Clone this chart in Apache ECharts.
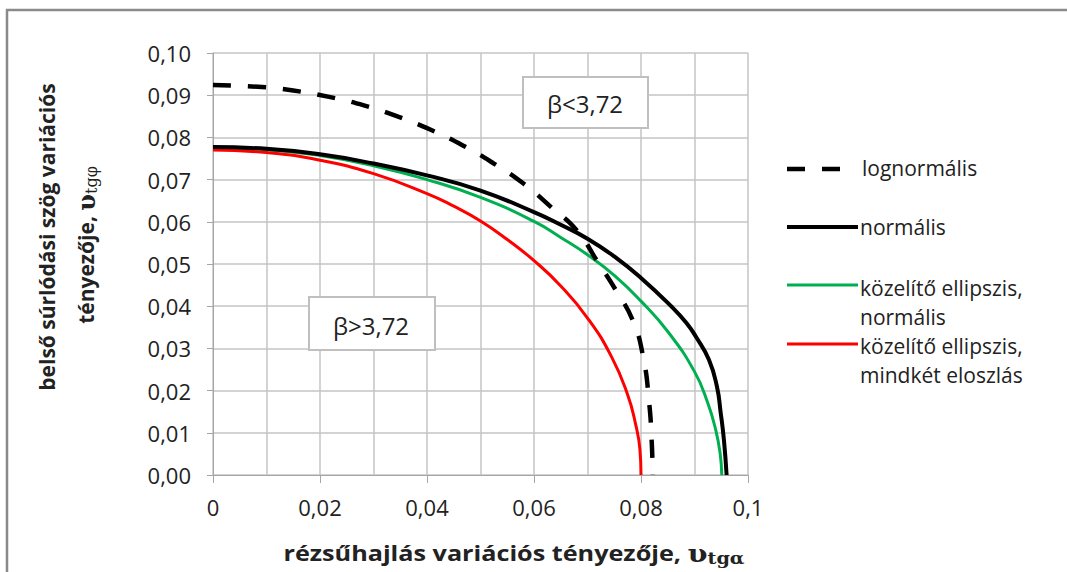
<!DOCTYPE html>
<html>
<head>
<meta charset="utf-8">
<script src="https://cdn.jsdelivr.net/npm/echarts@6/dist/echarts.min.js"></script>
<style>
html,body{margin:0;padding:0;background:#fff;}
#chart{width:1067px;height:572px;}
</style>
</head>
<body>
<div id="chart"></div>
<script>
// ---- data ----
var seriesNames = ['lognormális', 'normális', 'közelítő ellipszis, normális', 'közelítő ellipszis, mindkét eloszlás'];

var lognormalX = [0, 0.0084, 0.015, 0.0217, 0.0282, 0.0346, 0.0407, 0.0467, 0.0525, 0.0581, 0.0631, 0.0681, 0.0718, 0.0753, 0.0785, 0.0804, 0.0815, 0.0820, 0.0822];
var lognormalY = [0.0924, 0.0920, 0.0911, 0.0896, 0.0876, 0.0849, 0.0818, 0.0781, 0.0738, 0.0690, 0.0636, 0.0578, 0.0507, 0.0438, 0.0365, 0.0280, 0.0175, 0.0080, 0.0];

var normalX = [0, 0.010, 0.020, 0.030, 0.040, 0.050, 0.060, 0.065, 0.070, 0.075, 0.080, 0.0858, 0.0885, 0.0903, 0.0927, 0.0942, 0.0949, 0.0955, 0.0960];
var normalY = [0.0777, 0.0773, 0.0760, 0.0738, 0.0710, 0.0674, 0.0623, 0.0593, 0.0560, 0.0518, 0.0467, 0.0398, 0.0360, 0.0327, 0.0273, 0.0209, 0.0147, 0.0083, 0.0];

var ellNormX = [0, 0.010, 0.020, 0.030, 0.040, 0.050, 0.060, 0.065, 0.070, 0.075, 0.080, 0.085, 0.090, 0.0925, 0.0940, 0.0948, 0.0951];
var ellNormY = [0.0775, 0.0771, 0.0757, 0.0733, 0.0700, 0.0658, 0.0601, 0.0563, 0.0522, 0.0473, 0.0412, 0.0340, 0.0245, 0.0170, 0.0105, 0.0050, 0.0];

var ellBothX = [0, 0.010, 0.020, 0.030, 0.040, 0.045, 0.050, 0.055, 0.060, 0.065, 0.070, 0.0745, 0.0775, 0.0790, 0.0798, 0.0800];
var ellBothY = [0.0770, 0.0764, 0.0746, 0.0714, 0.0667, 0.0637, 0.0602, 0.0558, 0.0508, 0.0448, 0.0372, 0.0280, 0.0190, 0.0120, 0.0060, 0.0];

var xTickLabels = ['0', '0,02', '0,04', '0,06', '0,08', '0,1'];
var yTickLabels = ['0,00', '0,01', '0,02', '0,03', '0,04', '0,05', '0,06', '0,07', '0,08', '0,09', '0,10'];
var boxLabels = ['β<3,72', 'β>3,72'];
var legendLines = [['lognormális'], ['normális'], ['közelítő ellipszis,', 'normális'], ['közelítő ellipszis,', 'mindkét eloszlás']];
var xTitle = 'rézsűhajlás variációs tényezője, ';
var yTitle1 = 'belső súrlódási szög variációs';
var yTitle2 = 'tényezője, ';

function zip(xs, ys) { return xs.map(function (x, i) { return [x, ys[i]]; }); }

var FONT = '"Open Sans", "Noto Sans", sans-serif';
var TXT = '#222';
var chart = echarts.init(document.getElementById('chart'), null, { renderer: 'svg' });

function legendText(str, x, y) {
  return { type: 'text', x: x, y: y, z: 10,
    style: { text: str, fontSize: 21, fontFamily: FONT, fill: TXT, align: 'left', verticalAlign: 'middle' } };
}

var option = {
  backgroundColor: '#fff',
  animation: false,
  grid: { left: 213, right: 319, top: 53, bottom: 97 },
  xAxis: {
    type: 'value', min: 0, max: 0.1, interval: 0.02,
    axisLine: { show: true, onZero: false, lineStyle: { color: '#a6a6a6', width: 1 } },
    axisTick: { show: true, length: 8, lineStyle: { color: '#a6a6a6' } },
    minorTick: { show: false, splitNumber: 2 },
    splitLine: { show: true, lineStyle: { color: '#c4c4c4', width: 1.5 } },
    minorSplitLine: { show: true, lineStyle: { color: '#c4c4c4', width: 1.5 } },
    axisLabel: {
      margin: 21, color: TXT, fontSize: 22, fontFamily: FONT,
      formatter: function (v) { return xTickLabels[Math.round(v / 0.02)]; }
    }
  },
  yAxis: {
    type: 'value', min: 0, max: 0.1, interval: 0.01,
    axisLine: { show: true, lineStyle: { color: '#a6a6a6', width: 1 } },
    axisTick: { show: true, length: 6, lineStyle: { color: '#a6a6a6' } },
    splitLine: { show: true, lineStyle: { color: '#c4c4c4', width: 1.5 } },
    axisLabel: {
      margin: 22, color: TXT, fontSize: 22, fontFamily: FONT,
      formatter: function (v) { return yTickLabels[Math.round(v / 0.01)]; }
    }
  },
  series: [
    { name: seriesNames[0], type: 'line', data: zip(lognormalX, lognormalY), showSymbol: false, smooth: 0.5,
      lineStyle: { color: '#000', width: 4.5, type: [18, 17] }, z: 5 },
    { name: seriesNames[1], type: 'line', data: zip(normalX, normalY), showSymbol: false, smooth: 0.5,
      lineStyle: { color: '#000', width: 4 }, z: 4 },
    { name: seriesNames[2], type: 'line', data: zip(ellNormX, ellNormY), showSymbol: false, smooth: 0.5,
      lineStyle: { color: '#00b050', width: 3 }, z: 3 },
    { name: seriesNames[3], type: 'line', data: zip(ellBothX, ellBothY), showSymbol: false, smooth: 0.5,
      lineStyle: { color: '#ff0000', width: 3 }, z: 3 }
  ],
  graphic: [
    // outer chart border
    { type: 'rect', shape: { x: 7, y: 10, width: 1080, height: 620 }, style: { fill: 'none', stroke: '#8a8a8a', lineWidth: 2.5 }, z: 1 },
    // annotation boxes
    { type: 'rect', shape: { x: 523, y: 77, width: 125, height: 51 }, style: { fill: '#fff', stroke: '#bfbfbf', lineWidth: 2 }, z: 10 },
    { type: 'text', x: 585, y: 103, style: { text: boxLabels[0], fontSize: 24, fontFamily: FONT, fill: TXT, align: 'center', verticalAlign: 'middle' }, z: 11 },
    { type: 'rect', shape: { x: 309, y: 297, width: 126, height: 53 }, style: { fill: '#fff', stroke: '#bfbfbf', lineWidth: 2 }, z: 10 },
    { type: 'text', x: 371, y: 325, style: { text: boxLabels[1], fontSize: 24, fontFamily: FONT, fill: TXT, align: 'center', verticalAlign: 'middle' }, z: 11 },
    // legend
    { type: 'line', shape: { x1: 787, y1: 169, x2: 841, y2: 169 }, style: { stroke: '#000', lineWidth: 4.5, lineDash: [18, 17] }, z: 10 },
    legendText(legendLines[0][0], 862, 168),
    { type: 'line', shape: { x1: 787, y1: 227, x2: 858, y2: 227 }, style: { stroke: '#000', lineWidth: 4 }, z: 10 },
    legendText(legendLines[1][0], 860, 227),
    { type: 'line', shape: { x1: 787, y1: 285, x2: 858, y2: 285 }, style: { stroke: '#00b050', lineWidth: 3 }, z: 10 },
    legendText(legendLines[2][0], 860, 288),
    legendText(legendLines[2][1], 860, 317),
    { type: 'line', shape: { x1: 787, y1: 344, x2: 858, y2: 344 }, style: { stroke: '#ff0000', lineWidth: 3 }, z: 10 },
    legendText(legendLines[3][0], 860, 346),
    legendText(legendLines[3][1], 860, 375),
    // x-axis title
    { type: 'text', x: 514, y: 553, scaleX: 1.2, z: 10,
      style: { text: '{a|' + xTitle + '}{u|υ}{s|tgα}', align: 'center', verticalAlign: 'middle',
        rich: {
          a: { fontSize: 21, fontWeight: 'bold', fontFamily: FONT, fill: TXT },
          u: { fontSize: 24, fontWeight: 'bold', fontFamily: '"DejaVu Serif", serif', fill: TXT },
          s: { fontSize: 16, fontWeight: 'bold', fontFamily: '"DejaVu Serif", serif', fill: TXT, padding: [10, 0, 0, 0] }
        } } },
    // y-axis title (two lines, rotated)
    { type: 'text', x: 47, y: 237, rotation: Math.PI / 2, z: 10,
      style: { text: yTitle1, fontSize: 21, fontWeight: 'bold', fontFamily: FONT, fill: TXT, align: 'center', verticalAlign: 'middle' } },
    { type: 'text', x: 86, y: 245, rotation: Math.PI / 2, z: 10,
      style: { text: '{a|' + yTitle2 + '}{u|υ}{s|tgφ}', align: 'center', verticalAlign: 'middle',
        rich: {
          a: { fontSize: 21, fontWeight: 'bold', fontFamily: FONT, fill: TXT },
          u: { fontSize: 24, fontWeight: 'bold', fontFamily: '"DejaVu Serif", serif', fill: TXT },
          s: { fontSize: 16, fontFamily: '"DejaVu Serif", serif', fill: TXT, padding: [10, 0, 0, 0] }
        } } }
  ]
};
chart.setOption(option);
</script>
</body>
</html>
